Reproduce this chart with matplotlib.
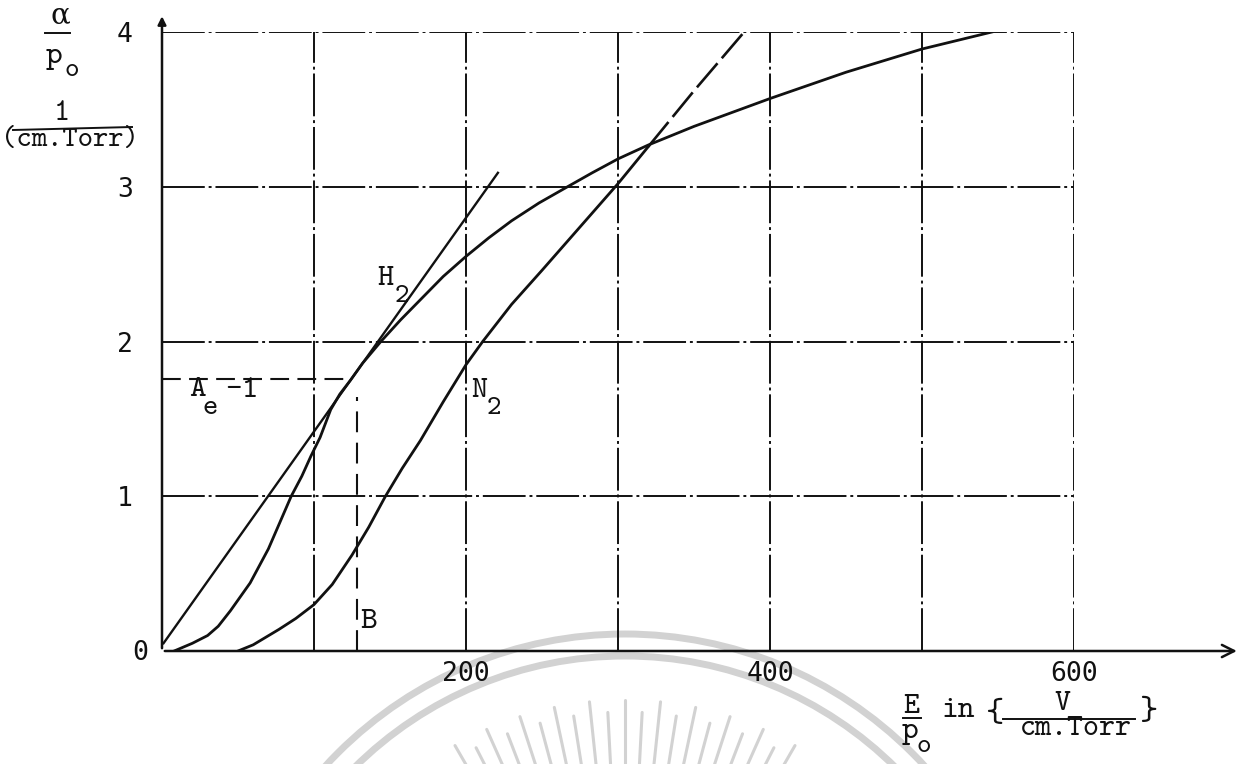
import numpy as np
import matplotlib
matplotlib.use("Agg")
import matplotlib.pyplot as plt
from matplotlib.transforms import Affine2D
from matplotlib.lines import Line2D
from matplotlib.patches import Circle

# Townsend coefficient alpha/p0 against reduced field E/p0
h2_field = [8, 20, 30, 37, 45, 58, 70, 85, 92, 98, 104, 111, 117, 124, 132, 144, 157, 170,
            185, 200, 215, 230, 248, 265, 283, 300, 320, 350, 400, 450, 500, 546]
h2_alpha = [0.0, 0.05, 0.10, 0.16, 0.26, 0.44, 0.66, 1.0, 1.13, 1.26, 1.38, 1.56, 1.66, 1.75,
            1.86, 2.0, 2.14, 2.27, 2.42, 2.55, 2.67, 2.78, 2.895, 2.99, 3.09, 3.18, 3.27,
            3.39, 3.57, 3.74, 3.89, 4.0]

n2_field = [50, 60, 77, 88, 100, 112, 125, 136, 147, 158, 170, 185, 200, 211, 230, 250, 275, 300, 320]
n2_alpha = [0.0, 0.04, 0.14, 0.21, 0.30, 0.43, 0.62, 0.80, 1.0, 1.18, 1.36, 1.61, 1.85, 2.0,
            2.24, 2.46, 2.74, 3.02, 3.26]
n2_field_ext = [320, 350, 383]
n2_alpha_ext = [3.26, 3.62, 4.0]

tangent_field = [1, 221]
tangent_alpha = [0.05, 3.09]

ae_level = 1.76      # A_e - 1
b_field = 128        # point B

x_grid = [100, 200, 300, 400, 500, 600]
x_labels = ["", "200", "", "400", "", "600"]
y_grid = [1, 2, 3, 4]
y_labels = ["1", "2", "3", "4"]

W, H = 1245, 764
fig = plt.figure(figsize=(W / 100, H / 100), dpi=100)
fig.patch.set_facecolor("white")
pix = Affine2D().scale(1 / W, -1 / H).translate(0, 1) + fig.transFigure

TT = ["cmtt10", "DejaVu Serif"]
INK = "#111111"

ax = fig.add_axes([162 / W, (H - 651) / H, 912 / W, 619 / H])
ax.patch.set_visible(False)
ax.set_xlim(0, 600)
ax.set_ylim(0, 4)
for s in ax.spines.values():
    s.set_visible(False)

ax.set_xticks(x_grid)
ax.set_xticklabels(x_labels)
ax.set_yticks(y_grid)
ax.set_yticklabels(y_labels)
ax.tick_params(length=0, labelsize=19, colors=INK)
ax.tick_params(axis="x", pad=7)
ax.tick_params(axis="y", pad=21)
for t in ax.get_xticklabels() + ax.get_yticklabels():
    t.set_family("DejaVu Sans Mono")
ax.grid(True, color=INK, lw=1.4, linestyle=(0, (22, 2, 1.5, 2)))

# axes with arrow heads
ax.annotate("", xy=(709, 0), xytext=(0, 0),
            arrowprops=dict(arrowstyle="->", lw=1.8, color=INK, mutation_scale=22),
            annotation_clip=False)
ax.annotate("", xy=(0, 4.12), xytext=(0, 0),
            arrowprops=dict(arrowstyle="-|>", lw=1.8, color=INK, mutation_scale=12),
            annotation_clip=False)

# curves
ax.plot(tangent_field, tangent_alpha, color=INK, lw=1.7)
ax.plot(h2_field, h2_alpha, color=INK, lw=2.0, solid_joinstyle="round")
ax.plot(n2_field, n2_alpha, color=INK, lw=2.0, solid_joinstyle="round")
ax.plot(n2_field_ext, n2_alpha_ext, color=INK, lw=1.9, linestyle=(0, (12, 2.5)))

# construction lines for A_e - 1 and B
ax.plot([0, b_field - 3], [ae_level, ae_level], color=INK, lw=1.5, linestyle=(0, (9, 4)))
ax.plot([b_field, b_field], [0, 1.64], color=INK, lw=1.5, linestyle=(0, (10, 5)))


def txt(x, y, s, size=23, fam=TT, **kw):
    fig.text(x, y, s, transform=pix, fontsize=size, family=fam, color=INK,
             ha=kw.pop("ha", "center"), va=kw.pop("va", "center"), **kw)


def bar(x0, y0, x1, y1, lw=1.4):
    fig.add_artist(Line2D([x0, x1], [y0, y1], transform=pix, color=INK, lw=lw))


txt(140, 653, "0", size=19, fam="DejaVu Sans Mono")

# curve labels
txt(385, 279, "H", size=22)
txt(402, 296, "2", size=20)
txt(479, 391, "N", size=22)
txt(494, 408, "2", size=20)
txt(198, 390, "A", size=23)
txt(210, 409, "e", size=21)
txt(242, 391, "-1", size=23)
txt(369, 622, "B", size=23)

# y-axis quantity
txt(60, 18, "\u03b1", size=21)
bar(45, 33, 70, 33)
txt(54, 57, "p", size=23)
txt(72, 71, "o", size=20)
txt(62, 114, "1", size=22)
bar(13, 130, 132, 127)
txt(70, 141, "(cm.Torr)", size=21)

# x-axis quantity
txt(911, 707, "E", size=22)
bar(903, 718, 921, 718)
txt(910, 732, "p", size=23)
txt(924, 747, "o", size=20)
txt(958, 711, "in", size=23)
txt(994, 715, "{", size=25)
txt(1062, 704, "V", size=22)
bar(1003, 719, 1135, 719)
txt(1076, 729, "cm.Torr", size=22)
txt(1148, 713, "}", size=25)

# faint seal in the background
seal = "#d2d2d2"
cx, cy = 625, 1040
for r in (406, 384):
    fig.add_artist(Circle((cx, cy), r, transform=pix, fill=False,
                          ec=seal, lw=5, zorder=-5))
for i, ang in enumerate(np.arange(-30, 30.1, 3.0)):
    a = np.deg2rad(ang)
    r_tip = 340 if i % 2 == 0 else 328
    xs = [cx + 200 * np.sin(a), cx + r_tip * np.sin(a)]
    ys = [cy - 200 * np.cos(a), cy - r_tip * np.cos(a)]
    fig.add_artist(Line2D(xs, ys, transform=pix, color=seal, lw=2.2,
                          solid_capstyle="round", zorder=-5))

fig.savefig("out.png", dpi=100, facecolor="white")
